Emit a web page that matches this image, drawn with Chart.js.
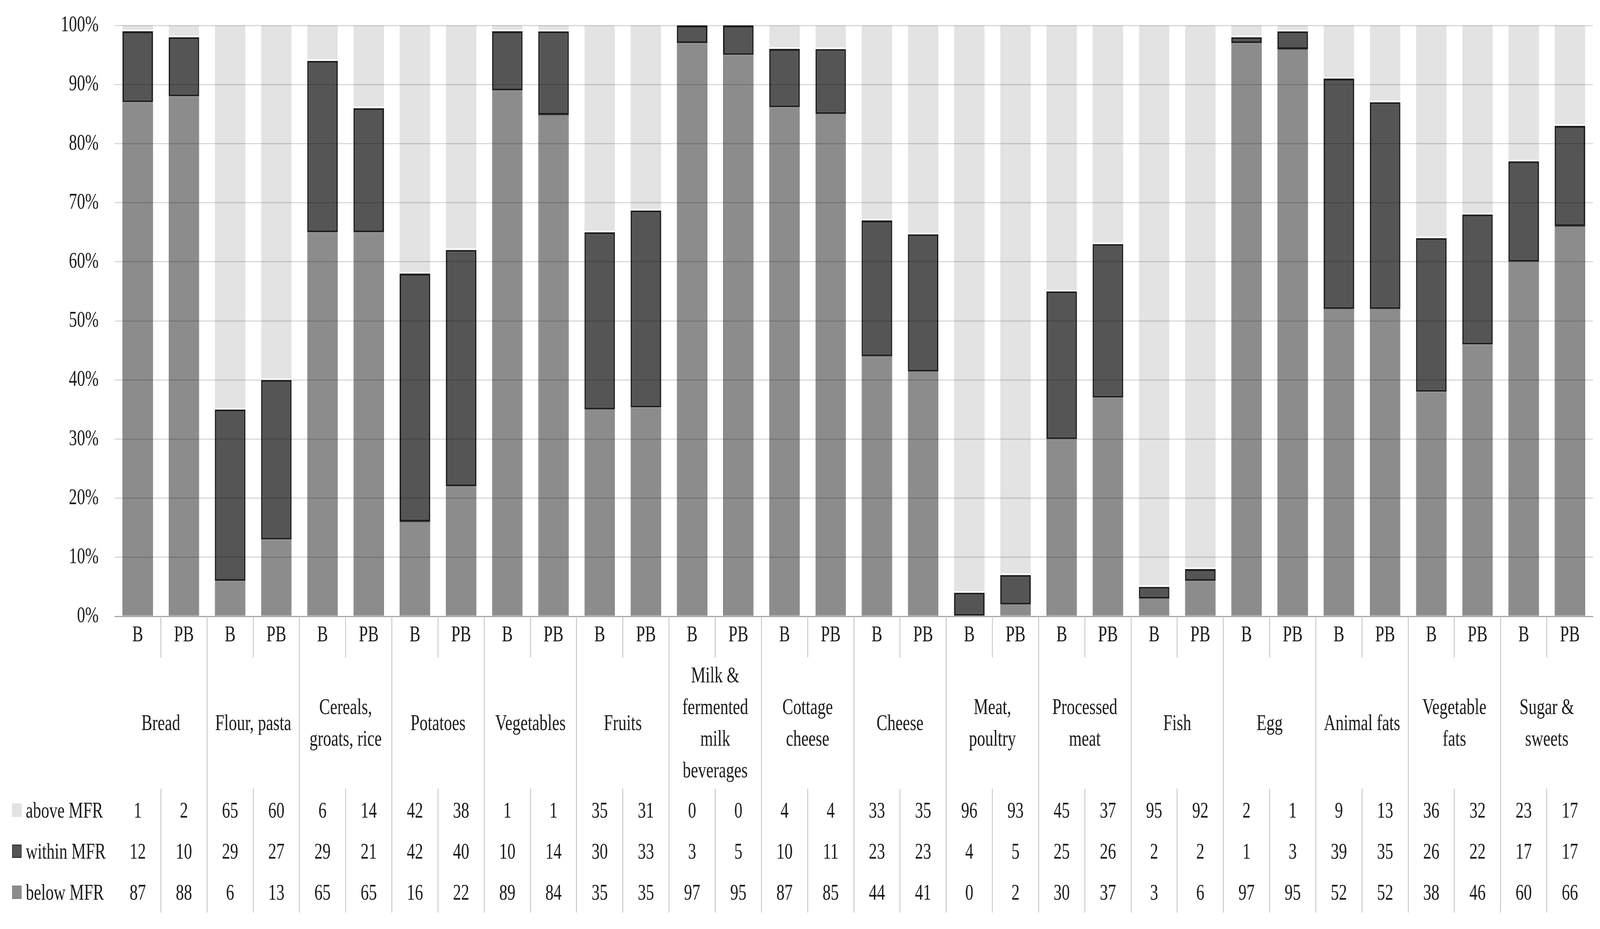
<!DOCTYPE html>
<html>
<head>
<meta charset="utf-8">
<script src="https://cdn.jsdelivr.net/npm/chart.js@4.4.0/dist/chart.umd.min.js"></script>
<style>
  html, body { margin: 0; padding: 0; background: #fff; overflow: hidden; }
  canvas { display: block; }
</style>
</head>
<body>
<canvas id="myChart" width="5709" height="2377"></canvas>
<script>
"use strict";

// food groups, split into the lines they are printed on
const categories = [
  ["Bread"], ["Flour, pasta"], ["Cereals,", "groats, rice"], ["Potatoes"],
  ["Vegetables"], ["Fruits"], ["Milk &", "fermented", "milk", "beverages"],
  ["Cottage", "cheese"], ["Cheese"], ["Meat,", "poultry"], ["Processed", "meat"],
  ["Fish"], ["Egg"], ["Animal fats"], ["Vegetable", "fats"], ["Sugar &", "sweets"]
];
const groups = ["B", "PB"];

// values per bar, order: B, PB for each food group
const aboveMFR = [1, 2, 65, 60, 6, 14, 42, 38, 1, 1, 35, 31, 0, 0, 4, 4,
  33, 35, 96, 93, 45, 37, 95, 92, 2, 1, 9, 13, 36, 32, 23, 17];
const withinMFR = [12, 10, 29, 27, 29, 21, 42, 40, 10, 14, 30, 33, 3, 5, 10, 11,
  23, 23, 4, 5, 25, 26, 2, 2, 1, 3, 39, 35, 26, 22, 17, 17];
const belowMFR = [87, 88, 6, 13, 65, 65, 16, 22, 89, 84, 35, 35, 97, 95, 87, 85,
  44, 41, 0, 2, 30, 37, 3, 6, 97, 95, 52, 52, 38, 46, 60, 66];

const yTicks = [0, 10, 20, 30, 40, 50, 60, 70, 80, 90, 100];

const FONT = '"Liberation Serif", "Times New Roman", serif';
const FS = 58;
const TXT = "#1a1a1a";

// bar labels B / PB for every food group
const labels = [];
categories.forEach(() => groups.forEach((g) => labels.push(g)));

// 100% stacked: each bar is scaled to its own total
const totals = labels.map((_, i) => aboveMFR[i] + withinMFR[i] + belowMFR[i]);
const pct = (arr) => arr.map((v, i) => (v / totals[i]) * 100);

const rows = [
  { name: "above MFR", values: aboveMFR, color: "#e3e3e3", border: "#dcdcdc" },
  { name: "within MFR", values: withinMFR, color: "#555555", border: "#1e1e1e" },
  { name: "below MFR", values: belowMFR, color: "#8c8c8c", border: "#7a7a7a" }
];

// draws the separators, food group names and the value table under the axis
const tablePlugin = {
  id: "dataTable",
  afterDraw(chart) {
    const ctx = chart.ctx;
    const x = chart.scales.x;
    const base = chart.chartArea.bottom;
    const half = (x.getPixelForValue(1) - x.getPixelForValue(0)) / 2;

    ctx.save();
    ctx.strokeStyle = "#c4c4c4";
    ctx.lineWidth = 3;
    for (let i = 0; i < labels.length - 1; i++) {
      const px = Math.round(x.getPixelForValue(i) + half);
      ctx.beginPath();
      if (i % 2 === 1) {
        ctx.moveTo(px, base);
        ctx.lineTo(px, base + 758);
      } else {
        ctx.moveTo(px, base);
        ctx.lineTo(px, base + 105);
        ctx.moveTo(px, base + 441);
        ctx.lineTo(px, base + 758);
      }
      ctx.stroke();
    }

    ctx.fillStyle = TXT;
    ctx.font = FS + "px " + FONT;
    ctx.textAlign = "center";
    ctx.textBaseline = "alphabetic";
    const capShift = FS * 0.32;
    const lineH = 81;

    // food group names
    categories.forEach((lines, c) => {
      const cx = (x.getPixelForValue(2 * c) + x.getPixelForValue(2 * c + 1)) / 2;
      const top = base + 272 - ((lines.length - 1) * lineH) / 2;
      lines.forEach((t, k) => ctx.fillText(t, cx, top + k * lineH + capShift));
    });

    // value rows with legend keys
    rows.forEach((r, ri) => {
      const cy = base + 496 + ri * 105;
      r.values.forEach((v, i) => {
        ctx.fillText(String(v), x.getPixelForValue(i), cy + capShift);
      });
      ctx.fillStyle = r.color;
      ctx.fillRect(43, cy - 17, 34, 34);
      ctx.strokeStyle = r.border;
      ctx.lineWidth = 2;
      ctx.strokeRect(44, cy - 16, 32, 32);
      ctx.fillStyle = TXT;
      ctx.textAlign = "left";
      ctx.fillText(r.name, 92, cy + capShift);
      ctx.textAlign = "center";
    });
    ctx.restore();
  }
};

// fit the 5709x2377 drawing into whatever viewport the page gets
const canvas = document.getElementById("myChart");
const viewW = window.innerWidth || 5709;
const viewH = window.innerHeight || 2377;
canvas.style.width = viewW + "px";
canvas.style.height = viewH + "px";
const ratio = (window.devicePixelRatio || 1) * Math.max(viewW / 5709, viewH / 2377);

const ctx = canvas.getContext("2d");
const myChart = new Chart(ctx, {
  type: "bar",
  data: {
    labels: labels,
    datasets: [
      {
        label: "below MFR",
        data: pct(belowMFR),
        backgroundColor: "#8c8c8c",
        borderColor: "#7a7a7a",
        borderWidth: 2,
        borderSkipped: false
      },
      {
        label: "within MFR",
        data: pct(withinMFR),
        backgroundColor: "#555555",
        borderColor: "#1e1e1e",
        borderWidth: 5,
        borderSkipped: false
      },
      {
        label: "above MFR",
        data: pct(aboveMFR),
        backgroundColor: "#e3e3e3",
        borderColor: "#ffffff",
        borderWidth: { top: 0, left: 0, right: 0, bottom: 4 },
        borderSkipped: false
      }
    ]
  },
  options: {
    responsive: false,
    animation: false,
    devicePixelRatio: ratio,
    layout: { padding: { top: 65, right: 25, left: 0, bottom: 0 } },
    datasets: { bar: { barPercentage: 0.66, categoryPercentage: 1 } },
    plugins: { legend: { display: false }, tooltip: { enabled: false } },
    scales: {
      x: {
        stacked: true,
        grid: { display: false, drawTicks: false },
        border: { display: true, color: "#c4c4c4", width: 3 },
        ticks: {
          font: { family: FONT, size: FS },
          color: TXT,
          padding: 14,
          maxRotation: 0,
          autoSkip: false
        },
        afterFit: (s) => { s.height = 800; }
      },
      y: {
        stacked: true,
        min: 0,
        max: 100,
        grid: {
          color: "rgba(0,0,0,0.15)",
          lineWidth: 3,
          drawTicks: true,
          tickLength: 57,
          tickColor: "rgba(0,0,0,0)",
          z: 1
        },
        border: { display: false },
        afterBuildTicks: (s) => { s.ticks = yTicks.map((v) => ({ value: v })); },
        ticks: {
          font: { family: FONT, size: FS },
          color: TXT,
          padding: 0,
          callback: (v) => v + "%"
        },
        afterFit: (s) => { s.width = 409; }
      }
    }
  },
  plugins: [tablePlugin]
});
</script>
</body>
</html>
